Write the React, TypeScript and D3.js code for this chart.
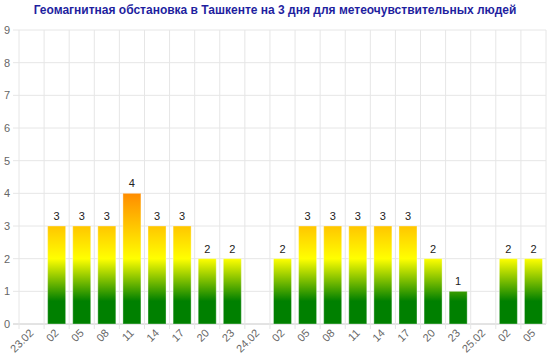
import React from "react";
import { scaleBand, scaleLinear } from "d3";

const title = "Геомагнитная обстановка в Ташкенте на 3 дня для метеочувствительных людей";
const hours = ["23.02", "02", "05", "08", "11", "14", "17", "20", "23", "24.02", "02", "05", "08", "11", "14", "17", "20", "23", "25.02", "02", "05"];
const kp: (number | null)[] = [null, 3, 3, 3, 4, 3, 3, 2, 2, null, 2, 3, 3, 3, 3, 3, 2, 1, null, 2, 2];
const yTicks = [0, 1, 2, 3, 4, 5, 6, 7, 8, 9];

const W = 560;
const H = 359;
const left = 19;
const right = 546;
const top = 30;
const bottom = 324;

const App: React.FC = () => {
  const keys = hours.map((_, i) => String(i));
  const x = scaleBand<string>().domain(keys).range([left, right]).paddingInner(0).paddingOuter(0);
  const y = scaleLinear().domain([0, 9]).range([bottom, top]);
  const bw = 18;

  return (
    <svg width={W} height={H} style={{ position: "absolute", left: 0, top: 0, fontFamily: "Liberation Sans, Arial, sans-serif" }}>
      <defs>
        <linearGradient id="kpGrad" gradientUnits="userSpaceOnUse" x1={0} x2={0} y1={y(0)} y2={y(4)}>
          <stop offset={(0.7 / 4).toString()} stopColor="#008000" />
          <stop offset="0.5" stopColor="#ffff00" />
          <stop offset="1" stopColor="#ff8c00" />
        </linearGradient>
      </defs>
      <rect width={W} height={H} fill="#fff" />
      <text x={275} y={14} textAnchor="middle" fontSize={12} fontWeight="bold" fill="#1f1f9f">
        {title}
      </text>
      {/* grid */}
      {yTicks.map((t) => (
        <line key={"h" + t} x1={13} x2={right} y1={y(t)} y2={y(t)} stroke={t === 0 ? "#c8c8c8" : "#e6e6e6"} />
      ))}
      {keys.map((k) => (
        <line key={"v" + k} x1={x(k)!} x2={x(k)!} y1={top} y2={bottom + 5} stroke="#e6e6e6" />
      ))}
      <line x1={right} x2={right} y1={top} y2={bottom} stroke="#e6e6e6" />
      {yTicks.map((t) => (
        <text key={"yl" + t} x={7} y={y(t)} dy="0.35em" textAnchor="middle" fontSize={11} fill="#666">
          {t}
        </text>
      ))}
      {/* bars */}
      {kp.map((v, i) =>
        v == null ? null : (
          <g key={"b" + i}>
            <rect
              x={x(keys[i])! + x.bandwidth() / 2 - bw / 2}
              y={y(v)}
              width={bw}
              height={bottom - y(v)}
              fill="url(#kpGrad)"
              stroke="rgba(255,255,255,0.35)"
              strokeWidth={1}
            />
            <text x={x(keys[i])! + x.bandwidth() / 2} y={y(v) - 6} textAnchor="middle" fontSize={11} fill="#222">
              {v}
            </text>
          </g>
        )
      )}
      {/* x labels */}
      {hours.map((h, i) => (
        <text
          key={"xl" + i}
          transform={`translate(${x(keys[i])! + x.bandwidth() / 2},${bottom + 7}) rotate(-45)`}
          textAnchor="end"
          dy="0.35em"
          fontSize={11}
          fill="#666"
        >
          {h}
        </text>
      ))}
    </svg>
  );
};

export default App;
